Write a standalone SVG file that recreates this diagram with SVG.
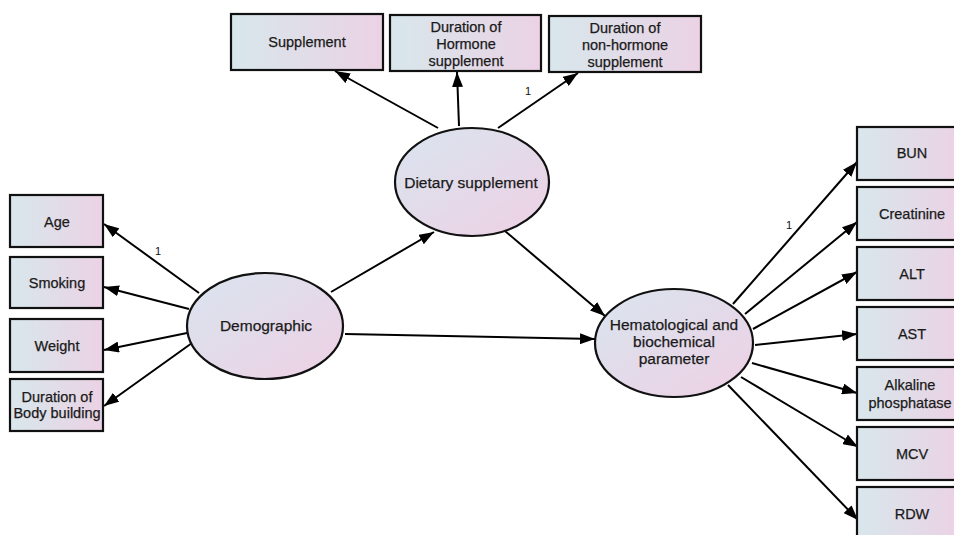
<svg xmlns="http://www.w3.org/2000/svg" width="954" height="535" viewBox="0 0 954 535">
<defs>
<linearGradient id="gBox" x1="0" y1="0" x2="1" y2="0">
<stop offset="0" stop-color="#d8e7ec"/>
<stop offset="1" stop-color="#ebd2e4"/>
</linearGradient>
<linearGradient id="gEll" x1="0" y1="0" x2="1" y2="1">
<stop offset="0" stop-color="#d9e5ef"/>
<stop offset="1" stop-color="#eed0e4"/>
</linearGradient>
<marker id="arr" markerUnits="userSpaceOnUse" markerWidth="15" markerHeight="11" refX="15" refY="5.5" orient="auto">
<path d="M0,0 L15,5.5 L0,11 z" fill="#000"/>
</marker>
</defs>
<style>
.box{fill:url(#gBox);stroke:#111;stroke-width:2.2}
.ell{fill:url(#gEll);stroke:#111;stroke-width:2.2}
text{font-family:"Liberation Sans",Arial,sans-serif;font-size:14.5px;fill:#1a1a1a;stroke:#1a1a1a;stroke-width:0.25;text-anchor:middle}
.et{font-size:15.5px}
.lbl{font-size:11px;fill:#111;stroke:none}
.con line{stroke:#000;stroke-width:2;marker-end:url(#arr)}
</style>
<rect width="954" height="535" fill="#fff"/>

<g id="connectors" class="con">
<line x1="438" y1="128" x2="335" y2="71"/>
<line x1="459" y1="126" x2="457" y2="72"/>
<line x1="498" y1="128" x2="578" y2="73"/>
<line x1="199" y1="293" x2="104" y2="224"/>
<line x1="189" y1="309" x2="104" y2="287"/>
<line x1="187" y1="333" x2="104" y2="350"/>
<line x1="192" y1="343" x2="104" y2="406"/>
<line x1="331" y1="292" x2="434" y2="232"/>
<line x1="345" y1="334" x2="595" y2="339"/>
<line x1="505" y1="231" x2="605" y2="316"/>
<line x1="733" y1="304" x2="857" y2="162"/>
<line x1="745" y1="314" x2="857" y2="222"/>
<line x1="753" y1="329" x2="857" y2="272"/>
<line x1="755" y1="345" x2="857" y2="334"/>
<line x1="752" y1="363" x2="857" y2="393"/>
<line x1="741" y1="377" x2="858" y2="447"/>
<line x1="728" y1="385" x2="858" y2="520"/>
</g>

<g id="labels">
<text class="lbl" x="528" y="95">1</text>
<text class="lbl" x="158" y="255">1</text>
<text class="lbl" x="789" y="229">1</text>
</g>

<g id="n-supplement"><rect class="box" x="231" y="14" width="152" height="56"/><text x="307" y="47">Supplement</text></g>
<g id="n-dur-hormone"><rect class="box" x="390" y="15" width="151" height="56"/><text x="466" y="32">Duration of</text><text x="466" y="49">Hormone</text><text x="466" y="66">supplement</text></g>
<g id="n-dur-nonhormone"><rect class="box" x="549" y="16" width="152" height="56"/><text x="625" y="33">Duration of</text><text x="625" y="50">non-hormone</text><text x="625" y="67">supplement</text></g>

<g id="n-dietary"><ellipse class="ell" cx="472" cy="182" rx="77" ry="54"/><text class="et" x="471" y="188">Dietary supplement</text></g>

<g id="n-age"><rect class="box" x="10" y="195" width="93" height="52"/><text x="57" y="227">Age</text></g>
<g id="n-smoking"><rect class="box" x="10" y="257" width="93" height="51"/><text x="57" y="288">Smoking</text></g>
<g id="n-weight"><rect class="box" x="10" y="319" width="93" height="53"/><text x="57" y="351">Weight</text></g>
<g id="n-dur-body"><rect class="box" x="10" y="379" width="93" height="52"/><text x="57" y="402">Duration of</text><text x="57" y="418">Body building</text></g>

<g id="n-demographic"><ellipse class="ell" cx="265" cy="326" rx="78" ry="53"/><text class="et" x="266" y="331">Demographic</text></g>

<g id="n-hemato"><ellipse class="ell" cx="674" cy="343" rx="79" ry="54"/><text class="et" x="674" y="330">Hematological and</text><text class="et" x="674" y="347">biochemical</text><text class="et" x="674" y="364">parameter</text></g>

<g id="n-bun"><rect class="box" x="857" y="127" width="104" height="53"/><text x="912" y="158">BUN</text></g>
<g id="n-creatinine"><rect class="box" x="857" y="187" width="104" height="53"/><text x="912" y="219">Creatinine</text></g>
<g id="n-alt"><rect class="box" x="857" y="247" width="104" height="53"/><text x="912" y="279">ALT</text></g>
<g id="n-ast"><rect class="box" x="857" y="307" width="104" height="53"/><text x="912" y="339">AST</text></g>
<g id="n-alp"><rect class="box" x="857" y="367" width="104" height="53"/><text x="910" y="390">Alkaline</text><text x="910" y="408">phosphatase</text></g>
<g id="n-mcv"><rect class="box" x="857" y="427" width="104" height="53"/><text x="912" y="459">MCV</text></g>
<g id="n-rdw"><rect class="box" x="857" y="487" width="104" height="53"/><text x="912" y="519">RDW</text></g>
</svg>
